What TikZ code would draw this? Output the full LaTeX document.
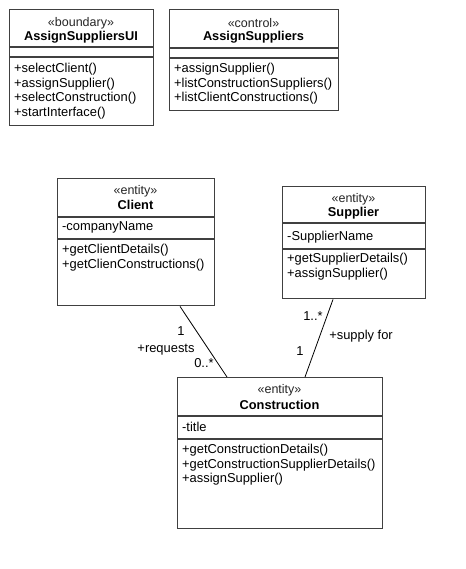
\documentclass[tikz,border=0pt]{standalone}
\usepackage{fontspec}
\setmainfont{Liberation Sans}
\begin{document}
\begin{tikzpicture}[x=1pt,y=-1pt,
  box/.style={draw=black!75, line width=1.4pt, fill=white, rectangle, anchor=north west, inner sep=0pt},
  divider/.style={draw=black!75, line width=1.4pt},
  st/.style={font=\fontsize{12.5}{14}\selectfont, text=black!85, inner sep=0pt},
  nm/.style={font=\fontsize{12.8}{14}\selectfont\bfseries, inner sep=0pt},
  mb/.style={font=\fontsize{12.9}{14}\selectfont, anchor=west, inner sep=0pt},
  lbl/.style={font=\fontsize{12.9}{14}\selectfont, inner sep=0pt},
  assoc/.style={draw=black, line width=0.8pt}]
\useasboundingbox[fill=white] (0,0) rectangle (465,569);

% AssignSuppliersUI
\node[box, minimum width=144pt, minimum height=116pt] (ui) at (9,9) {};
\draw[divider] (9,47) -- (153,47);
\draw[divider] (9,57) -- (153,57);
\node[st] (uis) at (81,23) {«boundary»};
\node[nm] (uin) at (81,37) {AssignSuppliersUI};
\node[mb] (uim1) at (14,69.5) {+selectClient()};
\node[mb] (uim2) at (14,84) {+assignSupplier()};
\node[mb] (uim3) at (14,98.5) {+selectConstruction()};
\node[mb] (uim4) at (14,113) {+startInterface()};

% AssignSuppliers
\node[box, minimum width=169pt, minimum height=101pt] (ctl) at (169,9) {};
\draw[divider] (169,48) -- (338,48);
\draw[divider] (169,58) -- (338,58);
\node[st] (ctls) at (253.5,23) {«control»};
\node[nm] (ctln) at (253.5,37) {AssignSuppliers};
\node[mb] (ctlm1) at (174,69.5) {+assignSupplier()};
\node[mb] (ctlm2) at (174,84) {+listConstructionSuppliers()};
\node[mb] (ctlm3) at (174,98.5) {+listClientConstructions()};

% Client
\node[box, minimum width=157pt, minimum height=127pt] (client) at (57,178) {};
\draw[divider] (57,217) -- (214,217);
\draw[divider] (57,239) -- (214,239);
\node[st] (cls) at (135.5,191) {«entity»};
\node[nm] (cln) at (135.5,205) {Client};
\node[mb] (cla1) at (62,227.5) {-companyName};
\node[mb] (clm1) at (62,250.5) {+getClientDetails()};
\node[mb] (clm2) at (62,265) {+getClienConstructions()};

% Supplier
\node[box, minimum width=143pt, minimum height=112pt] (sup) at (282,186) {};
\draw[divider] (282,223) -- (425,223);
\draw[divider] (282,249) -- (425,249);
\node[st] (sups) at (353.5,199) {«entity»};
\node[nm] (supn) at (353.5,213) {Supplier};
\node[mb] (supa1) at (287,237) {-SupplierName};
\node[mb] (supm1) at (287,259.5) {+getSupplierDetails()};
\node[mb] (supm2) at (287,274) {+assignSupplier()};

% Construction
\node[box, minimum width=205pt, minimum height=151pt] (con) at (177,377) {};
\draw[divider] (177,416) -- (382,416);
\draw[divider] (177,439) -- (382,439);
\node[st] (cons) at (279.5,390) {«entity»};
\node[nm] (conn) at (279.5,404.5) {Construction};
\node[mb] (cona1) at (182,427) {-title};
\node[mb] (conm1) at (182,450.5) {+getConstructionDetails()};
\node[mb] (conm2) at (182,465) {+getConstructionSupplierDetails()};
\node[mb] (conm3) at (182,479.5) {+assignSupplier()};

% connectors
\coordinate (clb) at (client.south -| 180,0);
\coordinate (cont1) at (con.north -| 227,0);
\coordinate (supb) at (sup.south -| 333,0);
\coordinate (cont2) at (con.north -| 305,0);
\draw[assoc] (clb) -- (cont1);
\draw[assoc] (supb) -- (cont2);

\node[lbl] (l1) at (181,331) {1};
\node[lbl] (l2) at (166,350) {+requests};
\node[lbl] (l3) at (204,363) {0..*};
\node[lbl] (l4) at (313,316) {1..*};
\node[lbl] (l5) at (361,336) {+supply for};
\node[lbl] (l6) at (300,351) {1};
\end{tikzpicture}
\end{document}
